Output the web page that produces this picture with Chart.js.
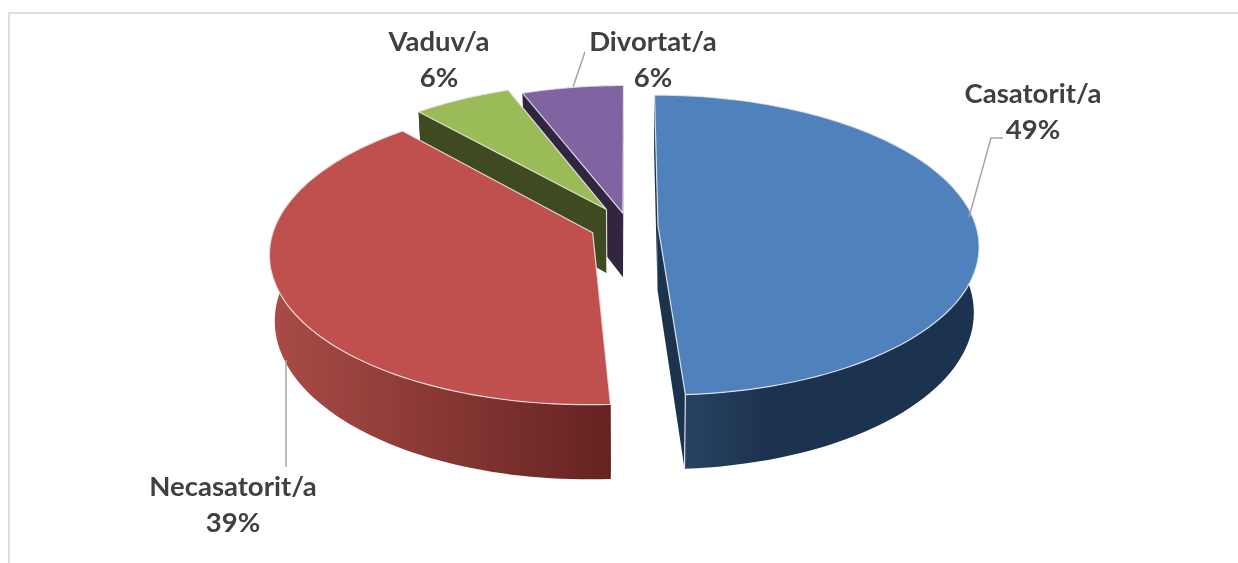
<!DOCTYPE html>
<html>
<head>
<meta charset="utf-8">
<style>
  html, body { margin: 0; padding: 0; background: #fff; overflow: hidden; }
  #cadru { position: absolute; left: 8px; top: 12px; width: 1230px; height: 551px; box-sizing: border-box;
           border-top: 2px solid #dedede; border-left: 2px solid #dedede; }
  canvas { position: absolute; left: 0; top: 0; }
</style>
<script src="https://cdn.jsdelivr.net/npm/chart.js@4/dist/chart.umd.min.js"></script>
</head>
<body>
<div id="cadru"></div>
<canvas id="grafic" width="1238" height="563"></canvas>
<script>
// Stare civila - pie 3D cu felii separate
var categorii = ['Casatorit/a', 'Necasatorit/a', 'Vaduv/a', 'Divortat/a'];
var procente = [49, 39.45, 5.7, 5.85];

var culori = ['#4f81bd', '#c0504d', '#9bbb59', '#8064a2'];
var culoriLaterale = ['#1c334f', '#652320', '#3f4a20', '#31253f'];
var gradientPerete = [['#2b4768', '#1c334f'], ['#aa4c48', '#652320'], ['#3f4a20', '#3f4a20'], ['#31253f', '#31253f']];
var explozie = [30, 38, 42, 28];

// proiectia discului (perspectiva simpla); planul de jos e putin mai ingust
var P = { cx: 628, cy: 226, rx: 318, ry: 147.6, k: 0.13, adancime: 64.5, ingustare: 0.985 };

function proiecteaza(u, v, jos) {
  var w = 1 / (1 - P.k * v);
  var x = P.rx * u * w;
  return { x: P.cx + (jos ? x * P.ingustare : x), y: P.cy + P.ry * v * w + (jos ? P.adancime * w : 0) };
}

function punct(arc, r, a, jos) {
  var mid = (arc.startAngle + arc.endAngle) / 2;
  var o = arc.options.offset / P.rx;
  return proiecteaza(r * Math.cos(a) + o * Math.cos(mid), r * Math.sin(a) + o * Math.sin(mid), jos);
}

function margine(arc, jos, invers) {
  var pts = [];
  var n = 90;
  for (var i = 0; i <= n; i++) {
    var t = invers ? 1 - i / n : i / n;
    pts.push(punct(arc, 1, arc.startAngle + (arc.endAngle - arc.startAngle) * t, jos));
  }
  return pts;
}

function poligon(ctx, pts) {
  ctx.beginPath();
  pts.forEach(function (p, i) { if (i === 0) ctx.moveTo(p.x, p.y); else ctx.lineTo(p.x, p.y); });
  ctx.closePath();
}

function pereti(ctx, arc, i) {
  var c0 = punct(arc, 0, 0, false), c1 = punct(arc, 0, 0, true);
  [arc.startAngle, arc.endAngle].forEach(function (a) {
    poligon(ctx, [c0, punct(arc, 1, a, false), punct(arc, 1, a, true), c1]);
    ctx.fillStyle = culoriLaterale[i];
    ctx.fill();
  });
  var sus = margine(arc, false, false);
  var jos = margine(arc, true, true);
  var xs = sus.map(function (p) { return p.x; });
  var x0 = Math.min.apply(null, xs), x1 = Math.max.apply(null, xs);
  var g = ctx.createLinearGradient(x0, 0, x1, 0);
  // peretele albastru se inchide repede spre dreapta, cel rosu treptat
  g.addColorStop(0, gradientPerete[i][0]);
  g.addColorStop(i === 0 ? 0.35 : 1, gradientPerete[i][1]);
  g.addColorStop(1, gradientPerete[i][1]);
  poligon(ctx, sus.concat(jos));
  ctx.fillStyle = g;
  ctx.fill();
  // muchii deschise
  var capat = punct(arc, 1, arc.endAngle, false), capatJos = punct(arc, 1, arc.endAngle, true);
  ctx.strokeStyle = 'rgba(235,235,235,0.9)';
  ctx.lineWidth = 1.2;
  if (i === 0) {
    ctx.beginPath(); ctx.moveTo(capat.x, capat.y); ctx.lineTo(capatJos.x, capatJos.y); ctx.stroke();
  }
  if (i === 2) {
    var st = punct(arc, 0, 0, false), stJos = punct(arc, 0, 0, true);
    ctx.beginPath(); ctx.moveTo(st.x, st.y); ctx.lineTo(stJos.x, stJos.y); ctx.stroke();
  }
}

function fata(ctx, arc, i) {
  var c0 = punct(arc, 0, 0, false);
  poligon(ctx, [c0].concat(margine(arc, false, false)));
  ctx.fillStyle = culori[i];
  ctx.fill();
  ctx.strokeStyle = 'rgba(240,240,240,0.85)';
  ctx.lineWidth = 1.2;
  ctx.lineJoin = 'round';
  ctx.stroke();
}

var etichete = [
  { x: 1033, y: 94, linie: [[1003, 138], [991, 138], [969, 217]] },
  { x: 233, y: 487, linie: [[286, 360], [286, 467]] },
  { x: 439, y: 42, linie: null },
  { x: 653, y: 42, linie: [[585, 52], [573, 87]] }
];

var pie3d = {
  id: 'pie3d',
  beforeDatasetDraw: function (chart, args) {
    var ctx = chart.ctx;
    var arce = chart.getDatasetMeta(args.index).data;
    var ordine = [3, 2, 1, 0];
    ctx.save();
    ordine.forEach(function (i) { pereti(ctx, arce[i], i); });
    ordine.forEach(function (i) { fata(ctx, arce[i], i); });
    ctx.restore();
    return false;
  },
  afterDraw: function (chart) {
    var ctx = chart.ctx;
    ctx.save();
    ctx.strokeStyle = '#a6a6a6';
    ctx.lineWidth = 1.5;
    etichete.forEach(function (e, i) {
      if (e.linie) {
        ctx.beginPath();
        e.linie.forEach(function (p, j) { if (j === 0) ctx.moveTo(p[0], p[1]); else ctx.lineTo(p[0], p[1]); });
        ctx.stroke();
      }
      ctx.fillStyle = '#404040';
      ctx.font = 'bold 27.5px Lato';
      ctx.textAlign = 'center';
      ctx.textBaseline = 'middle';
      ctx.fillText(categorii[i], e.x, e.y);
      ctx.fillText(Math.round(procente[i]) + '%', e.x, e.y + 36);
    });
    ctx.restore();
  }
};

new Chart(document.getElementById('grafic').getContext('2d'), {
  type: 'pie',
  data: {
    labels: categorii,
    datasets: [{ data: procente, backgroundColor: culori, offset: explozie, clip: false }]
  },
  options: {
    responsive: false,
    animation: false,
    plugins: { legend: { display: false }, tooltip: { enabled: false } }
  },
  plugins: [pie3d]
});
</script>
</body>
</html>
